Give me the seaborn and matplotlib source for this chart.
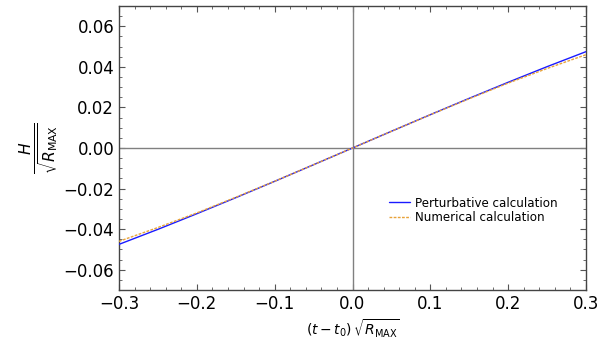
import numpy as np
import pandas as pd
import matplotlib
matplotlib.use("Agg")
import matplotlib.pyplot as plt
import seaborn as sns
from matplotlib.ticker import MultipleLocator

t_vals = [-0.30, -0.25, -0.20, -0.15, -0.10, -0.05, 0.00, 0.05, 0.10, 0.15, 0.20, 0.25, 0.30]
perturbative = [-0.0475, -0.0401, -0.0324, -0.0245, -0.01643, -0.00824, 0.0,
                0.00824, 0.01643, 0.0245, 0.0324, 0.0401, 0.0475]
numerical = [-0.0460, -0.0392, -0.0320, -0.0243, -0.0164, -0.00823, 0.0,
             0.00823, 0.0164, 0.0243, 0.0320, 0.0392, 0.0460]
series_names = ["Perturbative calculation", "Numerical calculation"]

sns.set_style("ticks")
plt.rcParams["font.family"] = ["DejaVu Sans"]
plt.rcParams["mathtext.fontset"] = "dejavusans"
plt.rcParams["text.color"] = "black"
plt.rcParams["axes.labelcolor"] = "black"
plt.rcParams["xtick.labelcolor"] = "black"
plt.rcParams["ytick.labelcolor"] = "black"

fig = plt.figure(figsize=(6.15, 3.48), dpi=100)
ax = fig.add_axes([119/615, 1-290/348, (586-119)/615, (290-6)/348])

ax.axhline(0, color="#808080", lw=1.0, zorder=1)
ax.axvline(0, color="#808080", lw=1.0, zorder=1)

df1 = pd.DataFrame({"t": t_vals, "H": perturbative})
df2 = pd.DataFrame({"t": t_vals, "H": numerical})
sns.lineplot(data=df1, x="t", y="H", ax=ax, color="#1a1aff", lw=1.0, label=series_names[0], zorder=3)
sns.lineplot(data=df2, x="t", y="H", ax=ax, color="#e8a33a", lw=1.0, ls=(0, (2, 1)), label=series_names[1], zorder=4)

ax.set_xlim(-0.3, 0.3)
ax.set_ylim(-0.07, 0.07)
ax.xaxis.set_major_locator(MultipleLocator(0.1))
ax.xaxis.set_minor_locator(MultipleLocator(0.02))
ax.yaxis.set_major_locator(MultipleLocator(0.02))
ax.yaxis.set_minor_locator(MultipleLocator(0.005))
ax.xaxis.set_major_formatter(matplotlib.ticker.FuncFormatter(lambda v, p: f"{v:.1f}".replace("-", "\u2212")))
ax.yaxis.set_major_formatter(matplotlib.ticker.FuncFormatter(lambda v, p: f"{v:.2f}".replace("-", "\u2212")))
ax.tick_params(which="both", direction="in", top=True, right=True, labelsize=12, color="#555555",
               labelcolor="black")
ax.tick_params(which="major", length=4, width=0.8)
ax.tick_params(which="minor", length=2.5, width=0.6)
for s in ax.spines.values():
    s.set_color("#444444")
    s.set_linewidth(1.0)

ax.set_xlabel(r"$(t-t_0)\,\sqrt{R_{\mathrm{MAX}}}$", fontsize=10, labelpad=3, color="black")
ax.set_ylabel(r"$\frac{H}{\sqrt{R_{\mathrm{MAX}}}}$", fontsize=16, labelpad=2, color="black")

ax.legend(loc="center left", bbox_to_anchor=(0.555, 0.28), frameon=False, fontsize=8.6,
          handlelength=1.8, handletextpad=0.4, labelspacing=0.15)

fig.savefig("out.png", dpi=100)
